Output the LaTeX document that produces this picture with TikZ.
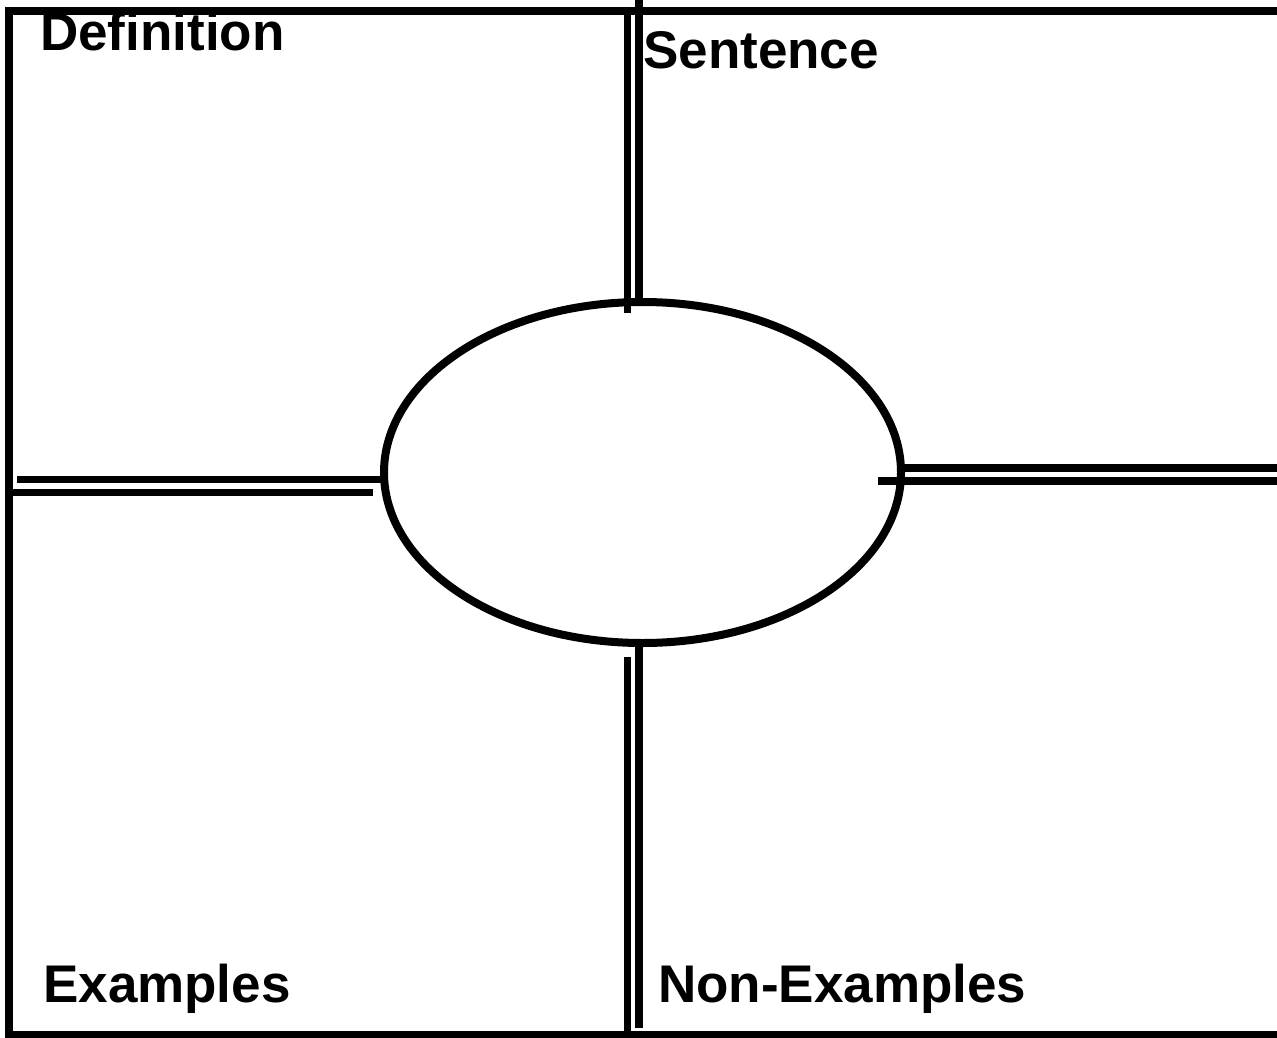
\documentclass[tikz,border=0pt]{standalone}
\usepackage{fontspec}
\setmainfont{Liberation Sans}
\usetikzlibrary{shapes.geometric}
\tikzset{
  frameline/.style={line width=8pt, line cap=rect},
  barline/.style={line width=7.5pt},
  label/.style={font=\fontsize{53}{60}\selectfont\bfseries, inner sep=0pt, anchor=base west},
  centreoval/.style={ellipse, draw, line width=8pt, minimum width=517pt, minimum height=341pt, inner sep=0pt, outer sep=0pt}
}
\begin{document}
\begin{tikzpicture}[x=1pt,y=-1pt]
\useasboundingbox (0,0) rectangle (1277,1038);
\clip (0,0) rectangle (1277,1038);
\fill[white] (0,0) rectangle (1277,1038);
% frame
\draw[frameline] (1300,11.5) -- (9,11.5) -- (9,1034.5) -- (1300,1034.5);
% centre oval
\node[centreoval] (ell) at (642.5,472.5) {};
% end points
\coordinate (tA) at (639,0);
\coordinate (tB0) at (627.5,15);
\coordinate (tB1) at (627.5,313);
\coordinate (lC0) at (17,479.5);
\coordinate (lD0) at (9,492.5);
\coordinate (lD1) at (373,492.5);
\coordinate (rE1) at (1290,468);
\coordinate (rF0) at (878,481);
\coordinate (rF1) at (1290,481);
\coordinate (bG0) at (627.5,657);
\coordinate (bG1) at (627.5,1034);
\coordinate (bH1) at (639,1028);
% top bars
\draw[barline] (tA) -- (tA |- ell.north);
\draw[barline] (tB0) -- (tB1);
% left bars
\draw[barline] (lC0) -- (lC0 -| ell.west);
\draw[barline] (lD0) -- (lD1);
% right bars
\draw[barline] (ell.east |- rE1) -- (rE1);
\draw[barline] (rF0) -- (rF1);
% bottom bars
\draw[barline] (bG0) -- (bG1);
\draw[barline] (bH1 |- ell.south) -- (bH1);
% labels
\node[label] (def) at (40,51) {Definition};
\node[label] (sen) at (643,69) {Sentence};
\node[label] (ex) at (43,1002) {Examples};
\node[label] (nex) at (658,1002) {Non-Examples};
\end{tikzpicture}
\end{document}
